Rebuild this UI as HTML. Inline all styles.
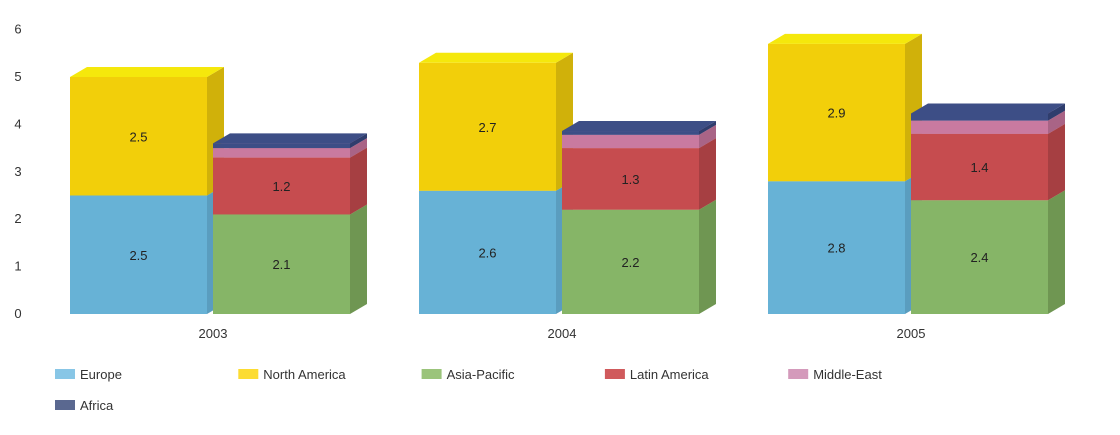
<!DOCTYPE html>
<html><head><meta charset="utf-8">
<style>
html,body{margin:0;padding:0;background:#fff;}
svg{display:block;font-family:"Liberation Sans",sans-serif;}
</style></head>
<body>
<svg id="chart" width="1120" height="435" viewBox="0 0 1120 435" xmlns="http://www.w3.org/2000/svg"></svg>
<script>
const years = ["2003","2004","2005"];
const europe = [2.5, 2.6, 2.8];
const northAmerica = [2.5, 2.7, 2.9];
const asiaPacific = [2.1, 2.2, 2.4];
const latinAmerica = [1.2, 1.3, 1.4];
const middleEast = [0.2, 0.28, 0.28];
const africa = [0.1, 0.08, 0.15];
const yTicks = [0,1,2,3,4,5,6];
const legendLabels = ["Europe","North America","Asia-Pacific","Latin America","Middle-East","Africa"];

const NS="http://www.w3.org/2000/svg";
const svg=document.getElementById('chart');
const y0=314, unit=47.4, dx=17, dy=10;
const yScale=v=>y0-v*unit;
const groupX=i=>70+i*349;
const barW=137;
function el(tag,attrs,parent){const e=document.createElementNS(NS,tag);for(const k in attrs)e.setAttribute(k,attrs[k]);(parent||svg).appendChild(e);return e;}

const colors={
 europe:["#67b2d6","#5a9dbf","#7cc2e2"],
 northAmerica:["#f2cf0a","#d0b10a","#f5e80c"],
 asiaPacific:["#86b567","#6f9652","#9cc67e"],
 latinAmerica:["#c64c4f","#a63f42","#d06062"],
 middleEast:["#c97aa0","#a96486","#d48db0"],
 africa:["#3d4e86","#2f3d6d","#3d4e86"]
};

// y axis
yTicks.forEach(t=>{
 const tx=el('text',{x:18,y:yScale(t)+4,'font-size':13,fill:'#333','text-anchor':'middle'});
 
 
 tx.textContent=t;
});

function drawSeg(x,v0,v1,key,name,label){
 const g=el('g',{});
 
 
 const top=yScale(v1), bot=yScale(v0);
 const c=colors[key];
 el('rect',{x:x,y:top,width:barW,height:bot-top,fill:c[0]},g);
 el('polygon',{points:`${x+barW},${top} ${x+barW+dx},${top-dy} ${x+barW+dx},${bot-dy} ${x+barW},${bot}`,fill:c[1]},g);
 el('polygon',{points:`${x},${top} ${x+dx},${top-dy} ${x+barW+dx},${top-dy} ${x+barW},${top}`,fill:c[2]},g);
 if(label){const t=el('text',{x:x+barW/2,y:(top+bot)/2+5,'font-size':13,fill:'#222','text-anchor':'middle'},g);t.textContent=label;}
}

years.forEach((yr,i)=>{
 const x1=groupX(i), x2=x1+143;
 drawSeg(x1,0,europe[i],'europe','bar-europe-'+yr,String(europe[i]));
 drawSeg(x1,europe[i],europe[i]+northAmerica[i],'northAmerica','bar-north-america-'+yr,String(northAmerica[i]));
 let b=0;
 drawSeg(x2,b,b+asiaPacific[i],'asiaPacific','bar-asia-pacific-'+yr,String(asiaPacific[i]));b+=asiaPacific[i];
 drawSeg(x2,b,b+latinAmerica[i],'latinAmerica','bar-latin-america-'+yr,String(latinAmerica[i]));b+=latinAmerica[i];
 drawSeg(x2,b,b+middleEast[i],'middleEast','bar-middle-east-'+yr,null);b+=middleEast[i];
 drawSeg(x2,b,b+africa[i],'africa','bar-africa-'+yr,null);
 const t=el('text',{x:x1+143,y:338,'font-size':13,fill:'#333','text-anchor':'middle'});
 
 
 t.textContent=yr;
});

const legendColors=["#88c6e6","#fcdc32","#9bc47b","#d05a5c","#d49abb","#5a6890"];
legendLabels.forEach((lab,i)=>{
 const col=i%5,row=Math.floor(i/5);
 const g=el('g',{});
 
 
 const lx=55+col*183.3, ly=369+row*31;
 el('rect',{x:lx,y:ly,width:20,height:10,fill:legendColors[i]},g);
 const t=el('text',{x:lx+25,y:ly+10,'font-size':13,fill:'#333'},g);
 t.textContent=lab;
});
</script>
</body></html>
